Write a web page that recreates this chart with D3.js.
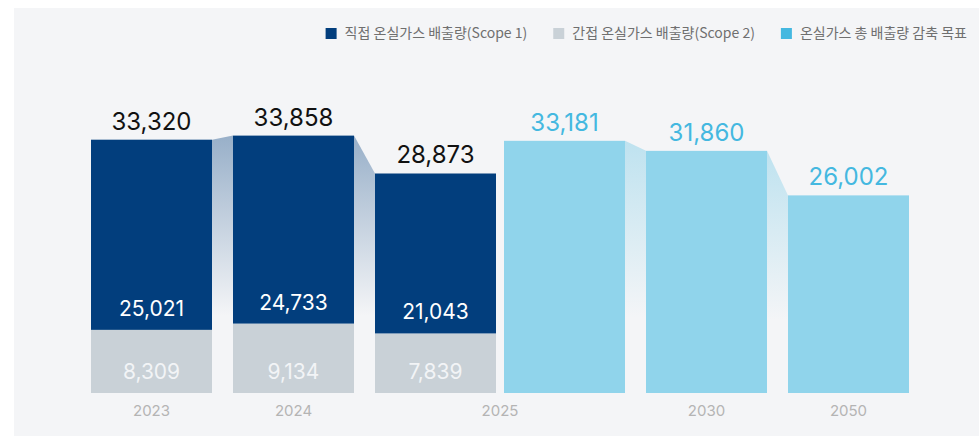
<!DOCTYPE html>
<html>
<head>
<meta charset="utf-8">
<script src="https://cdn.jsdelivr.net/npm/d3@7"></script>
<style>
  body { margin: 0; background: #fff; }
  svg { display: block; }
  .num { font-family: Inter, "Noto Sans", sans-serif; }
  .legend text { font-family: "Noto Sans CJK KR", "Noto Sans", sans-serif; }
</style>
</head>
<body>
<div id="chart"></div>
<script>
var years = ["2023", "2024", "2025"];
var scope1 = [25021, 24733, 21043];
var scope2 = [8309, 9134, 7839];
var totals = [33320, 33858, 28873];

var targetYears = ["2025", "2030", "2050"];
var targets = [33181, 31860, 26002];

var legendLabels = ["직접 온실가스 배출량(Scope 1)", "간접 온실가스 배출량(Scope 2)", "온실가스 총 배출량 감축 목표"];
var colors = ["#023e7d", "#c9d1d7", "#44b8e0"];
var targetFill = "#90d4eb";

var width = 979, height = 436;
var baseY = 393;

var svg = d3.select("#chart").append("svg")
  .attr("width", width)
  .attr("height", height);

var defs = svg.append("defs");
function gradient(id, color, op) {
  var g = defs.append("linearGradient")
    .attr("id", id)
    .attr("x1", 0).attr("y1", 0).attr("x2", 0).attr("y2", 1);
  g.append("stop").attr("offset", "0%").attr("stop-color", color).attr("stop-opacity", op);
  g.append("stop").attr("offset", "70%").attr("stop-color", color).attr("stop-opacity", 0);
}
gradient("gDark", "#023e7d", 0.38);
gradient("gLight", "#7ccbe6", 0.45);

svg.append("rect")
  .attr("x", 14).attr("y", 8)
  .attr("width", width - 14).attr("height", height - 8)
  .attr("fill", "#f4f5f7");

// bars: actual years, then target years
var keys = years.map(function(d) { return d; })
  .concat(targetYears.map(function(d) { return d + "T"; }));
var pairShift = 13;

var x = d3.scaleBand()
  .domain(keys)
  .range([91, 922])
  .paddingInner(21 / 142)
  .paddingOuter(0);

function bx(k) {
  return x(k) - (k.slice(-1) == "T" ? pairShift : 0);
}

var y = d3.scaleLinear().domain([0, 40000]).range([baseY, 89]);

var bars = [];
for (i = 0; i < years.length; i++) {
  bars.push({ key: years[i], top: scope1[i] + scope2[i], total: totals[i], s1: scope1[i], s2: scope2[i], target: false });
}
for (i = 0; i < targetYears.length; i++) {
  bars.push({ key: targetYears[i] + "T", top: targets[i], total: targets[i], target: true });
}

// connectors between neighbouring bars of the same kind
var conn = svg.append("g");
for (i = 0; i < bars.length - 1; i++) {
  var a = bars[i], b = bars[i + 1];
  if (a.target != b.target) continue;
  var x0 = bx(a.key) + x.bandwidth(), x1 = bx(b.key);
  conn.append("path")
    .attr("d", "M" + x0 + "," + y(a.top) + "L" + x1 + "," + y(b.top) +
      "L" + x1 + "," + baseY + "L" + x0 + "," + baseY + "Z")
    .attr("fill", a.target ? "url(#gLight)" : "url(#gDark)");
}

var g = svg.append("g");

// actual bars (stacked)
var actual = bars.filter(function(d) { return !d.target; });
g.selectAll(".s2").data(actual).enter().append("rect")
  .attr("x", function(d) { return bx(d.key); })
  .attr("width", x.bandwidth())
  .attr("y", function(d) { return y(d.s2); })
  .attr("height", function(d) { return baseY - y(d.s2); })
  .attr("fill", colors[1]);

g.selectAll(".s1").data(actual).enter().append("rect")
  .attr("x", function(d) { return bx(d.key); })
  .attr("width", x.bandwidth())
  .attr("y", function(d) { return y(d.s1 + d.s2); })
  .attr("height", function(d) { return y(d.s2) - y(d.s1 + d.s2); })
  .attr("fill", colors[0]);

var fmt = d3.format(",");

g.selectAll(".l1").data(actual).enter().append("text")
  .attr("class", "num")
  .attr("x", function(d) { return bx(d.key) + x.bandwidth() / 2; })
  .attr("y", function(d) { return y(d.s2) - 14; })
  .attr("text-anchor", "middle")
  .attr("font-size", 21)
  .attr("fill", "#fff")
  .text(function(d) { return fmt(d.s1); });

g.selectAll(".l2").data(actual).enter().append("text")
  .attr("class", "num")
  .attr("x", function(d) { return bx(d.key) + x.bandwidth() / 2; })
  .attr("y", baseY - 14)
  .attr("text-anchor", "middle")
  .attr("font-size", 21)
  .attr("fill", "#f2f4f6")
  .text(function(d) { return fmt(d.s2); });

// target bars
var target = bars.filter(function(d) { return d.target; });
g.selectAll(".t").data(target).enter().append("rect")
  .attr("x", function(d) { return bx(d.key); })
  .attr("width", x.bandwidth())
  .attr("y", function(d) { return y(d.top); })
  .attr("height", function(d) { return baseY - y(d.top); })
  .attr("fill", targetFill);

// totals
g.selectAll(".tot").data(bars).enter().append("text")
  .attr("class", "num")
  .attr("x", function(d) { return bx(d.key) + x.bandwidth() / 2; })
  .attr("y", function(d) { return y(d.top) - 10; })
  .attr("text-anchor", "middle")
  .attr("font-size", 24)
  .attr("font-weight", 400)
  .attr("fill", function(d) { return d.target ? colors[2] : "#111"; })
  .text(function(d) { return fmt(d.total); });

// year labels (2025 sits under both 2025 bars)
var labelYears = ["2023", "2024", "2025", "2030", "2050"];
g.selectAll(".yr").data(labelYears).enter().append("text")
  .attr("class", "num")
  .attr("x", function(d) {
    if (d == "2025") return (bx("2025") + bx("2025T") + x.bandwidth()) / 2;
    var k = years.indexOf(d) >= 0 ? d : d + "T";
    return bx(k) + x.bandwidth() / 2;
  })
  .attr("y", 416)
  .attr("text-anchor", "middle")
  .attr("font-size", 15)
  .attr("fill", "#b4b4b4")
  .text(function(d) { return d; });

// legend, laid out from the right
var legend = svg.append("g").attr("class", "legend");
var lx = 967;
for (i = legendLabels.length - 1; i >= 0; i--) {
  var item = legend.append("g");
  var t = item.append("text")
    .attr("y", 38)
    .attr("font-size", 14)
    .attr("fill", "#6f6f6f")
    .text(legendLabels[i]);
  var w = t.node().getComputedTextLength();
  lx -= w;
  t.attr("x", lx);
  item.append("rect")
    .attr("x", lx - 19).attr("y", 28)
    .attr("width", 11).attr("height", 11)
    .attr("fill", colors[i]);
  lx -= 19 + 26;
}
</script>
</body>
</html>
